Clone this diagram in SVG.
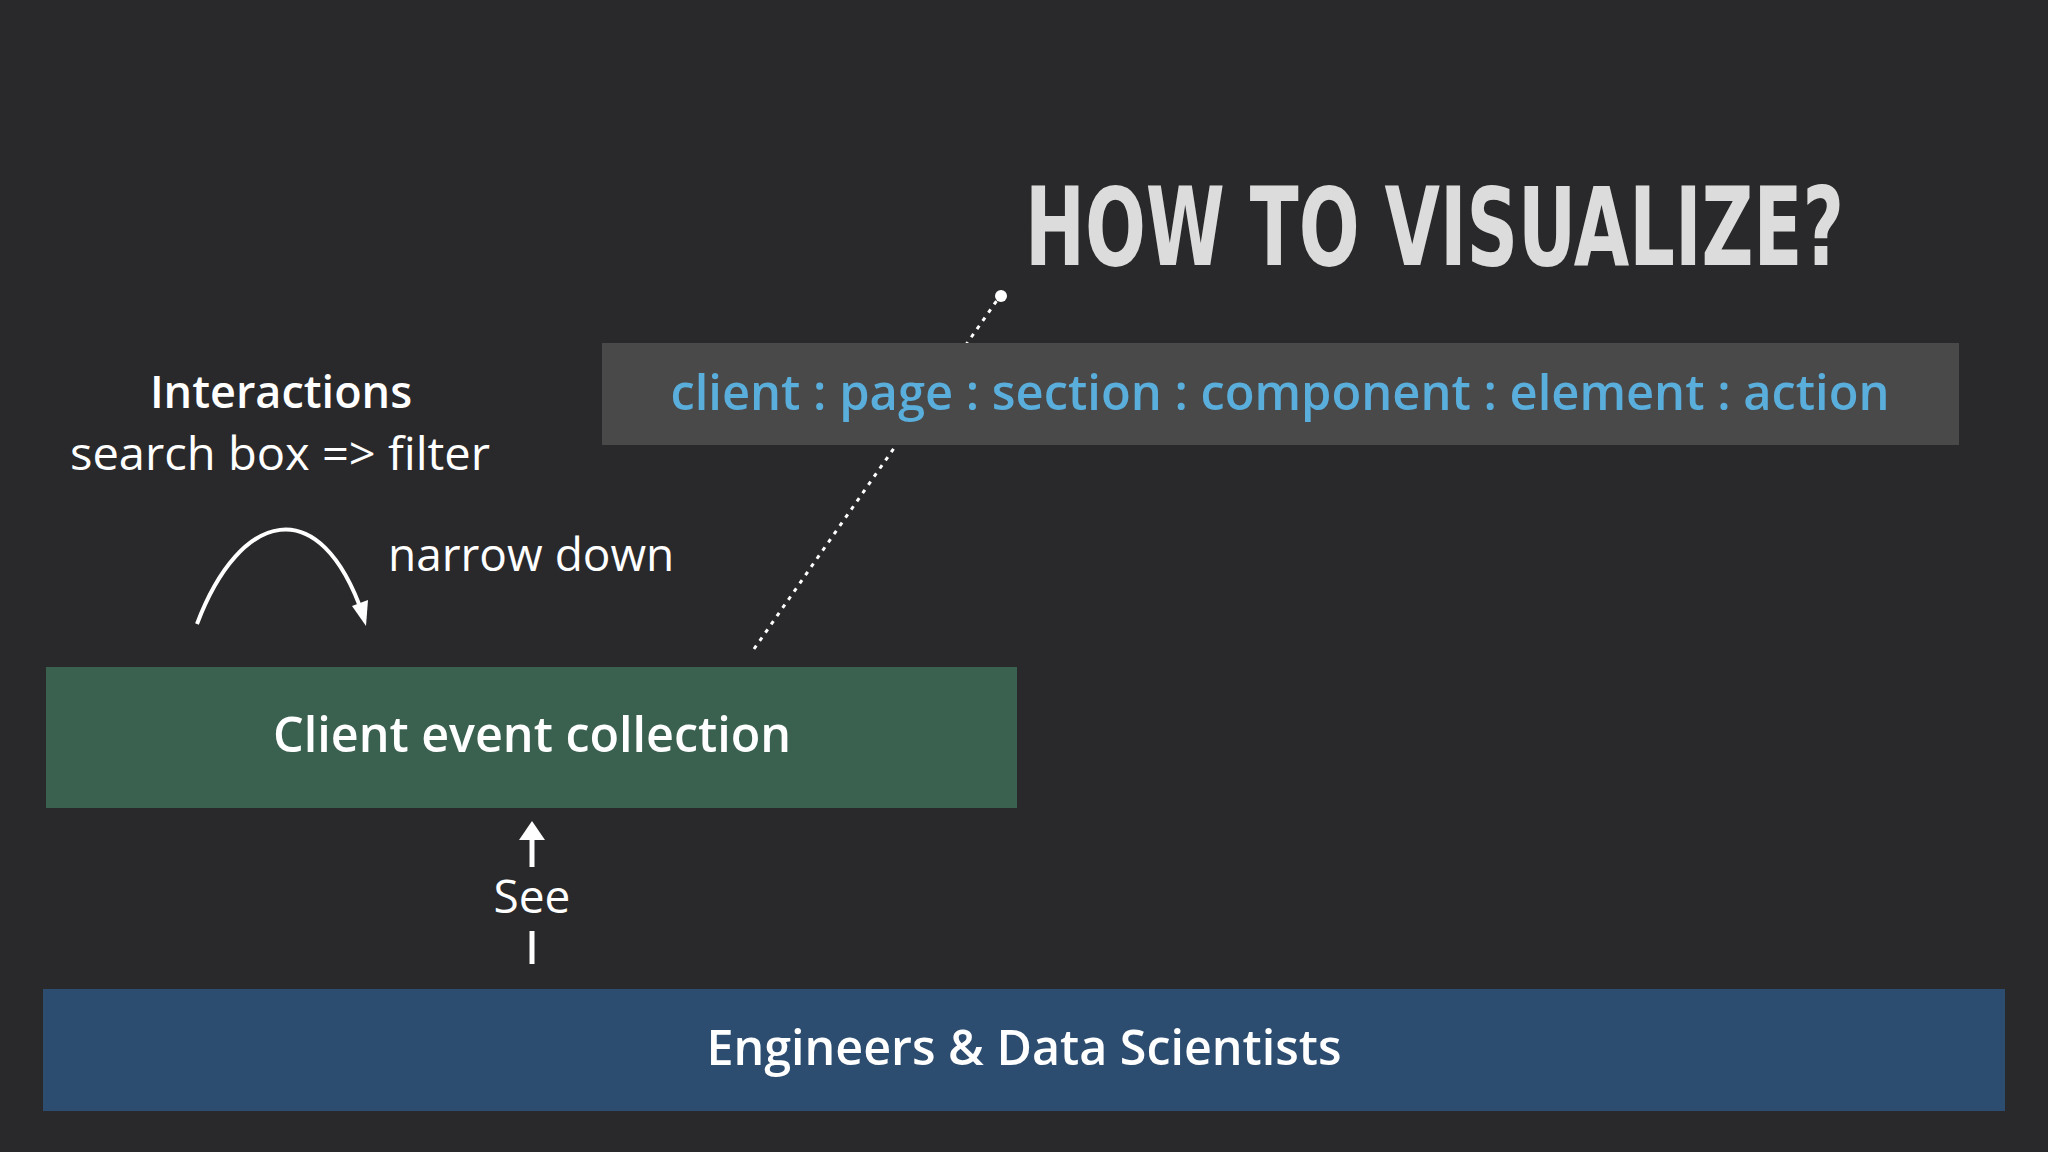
<svg xmlns="http://www.w3.org/2000/svg" width="2048" height="1152" viewBox="0 0 2048 1152">
<style>
.t{font-family:"Open Sans","Liberation Sans",sans-serif;fill:#ffffff}
.b{font-weight:600}
</style>
<rect width="2048" height="1152" fill="#29292b"/>
<g id="connectors">
<line x1="754" y1="649" x2="1000" y2="296" stroke="#fff" stroke-width="3" stroke-dasharray="4,6"/>
<circle cx="1001" cy="296" r="6" fill="#fff"/>
<path d="M197,624 C240,510 320,490 363,615" fill="none" stroke="#fff" stroke-width="4"/>
<path d="M352,606 L366,626 L368,600 z" fill="#fff"/>
<line x1="532" y1="867" x2="532" y2="836" stroke="#fff" stroke-width="5"/>
<path d="M519,840 L532,821 L545,840 z" fill="#fff"/>
<line x1="532" y1="931" x2="532" y2="964" stroke="#fff" stroke-width="5"/>
</g>
<g id="title"><text x="1025" y="265" style="font-family:'DejaVu Sans Condensed','DejaVu Sans',sans-serif;fill:#dcdcdc;font-weight:bold" font-size="108" textLength="819" lengthAdjust="spacingAndGlyphs">HOW TO VISUALIZE?</text></g>
<g id="hierarchy">
<rect x="602" y="343" width="1357" height="102" fill="#49494a"/>
<text x="1280" y="410" text-anchor="middle" class="t b" style="fill:#5aaedc" font-size="48" textLength="1219" lengthAdjust="spacingAndGlyphs">client : page : section : component : element : action</text>
</g>
<g id="interactions">
<text x="281" y="408" text-anchor="middle" class="t b" font-size="45">Interactions</text>
<text x="280" y="470" text-anchor="middle" class="t" font-size="46" textLength="420" lengthAdjust="spacingAndGlyphs">search box =&gt; filter</text>
</g>
<g id="narrow"><text x="388" y="571" class="t" font-size="46">narrow down</text></g>
<g id="client">
<rect x="46" y="667" width="971" height="141" fill="#3a6150"/>
<text x="532" y="752" text-anchor="middle" class="t b" font-size="48" textLength="518" lengthAdjust="spacingAndGlyphs">Client event collection</text>
</g>
<g id="see"><text x="532" y="913" text-anchor="middle" class="t" font-size="46">See</text></g>
<g id="engineers">
<rect x="43" y="989" width="1962" height="122" fill="#2c4d70"/>
<text x="1024" y="1065" text-anchor="middle" class="t b" font-size="48" textLength="635" lengthAdjust="spacingAndGlyphs">Engineers &amp; Data Scientists</text>
</g>
</svg>
